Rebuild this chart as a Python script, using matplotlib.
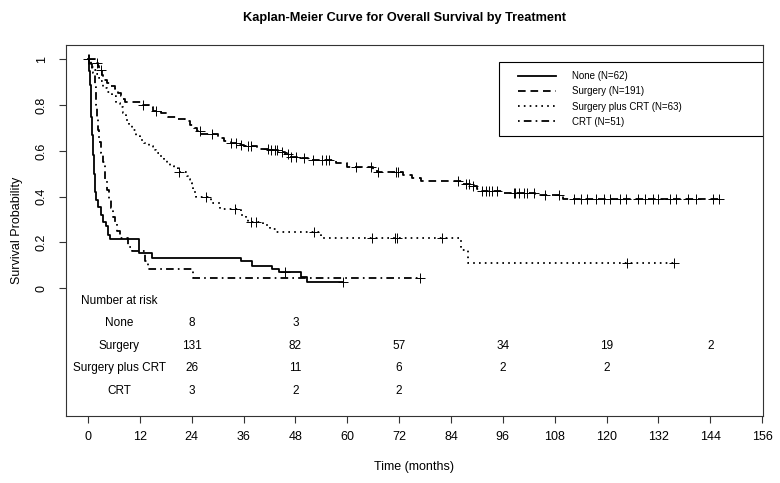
import numpy as np
import matplotlib
matplotlib.use("Agg")
import matplotlib.pyplot as plt
from matplotlib.patches import Rectangle

plt.rcParams["font.family"] = ["Liberation Sans", "DejaVu Sans"]
plt.rcParams["lines.scale_dashes"] = False

# Kaplan-Meier step curves: times (months) and survival after each step,
# last entry = end of follow-up
none_t = [0, 0.2, 0.4, 0.6, 0.8, 1.0, 1.2, 1.4, 1.6, 1.85, 2.4, 2.9, 3.5, 4.2, 4.7, 5.2,
          11.8, 14.7, 35.3, 37.9, 42.5, 44.3, 49.3, 50.6, 58.9]
none_s = [1.0, 0.95, 0.89, 0.82, 0.75, 0.67, 0.58, 0.50, 0.42, 0.385, 0.356, 0.32, 0.29, 0.27, 0.23, 0.214,
          0.152, 0.133, 0.12, 0.098, 0.083, 0.069, 0.047, 0.025, 0.025]
none_cens = [0.1, 45.5, 58.9]

surg_t = [0, 1.5, 2.2, 2.6, 3.2, 3.5, 4.5, 5.2, 6.2, 7.0, 7.6, 8.2, 8.6, 12.5, 14.0, 15.0, 17.0, 18.5,
          20.5, 22.5, 23.5, 24.5, 25.2, 26.0, 30.0, 31.5, 33.0, 35.0, 36.0, 39.0, 42.0, 44.0, 45.5,
          46.5, 49.0, 51.0, 57.5, 60.0, 66.0, 66.8, 73.0, 75.0, 77.0, 86.5, 88.5, 90.0, 91.0, 96.0,
          103.5, 110.0, 146.0]
surg_s = [1.0, 0.985, 0.97, 0.955, 0.93, 0.91, 0.895, 0.885, 0.87, 0.855, 0.84, 0.825, 0.813, 0.80, 0.79,
          0.775, 0.765, 0.75, 0.74, 0.73, 0.715, 0.70, 0.685, 0.672, 0.655, 0.645, 0.635, 0.627, 0.62,
          0.61, 0.605, 0.595, 0.585, 0.575, 0.567, 0.56, 0.545, 0.53, 0.515, 0.508, 0.494, 0.48, 0.47,
          0.455, 0.445, 0.435, 0.426, 0.417, 0.405, 0.388, 0.388]
surg_cens = [0.3, 2.0, 2.9, 12.8, 15.8, 25.9, 28.7, 33.2, 34.3, 35.5, 37.0, 37.6, 41.6, 42.4, 43.2, 43.8,
             45.0, 46.2, 47.0, 48.2, 50.0, 52.0, 54.2, 55.0, 55.8, 62.0, 65.5, 67.2, 71.2, 71.7, 85.7,
             87.4, 88.2, 89.0, 91.2, 92.0, 92.8, 93.5, 94.7, 98.5, 98.9, 99.7, 100.8, 101.6, 103.2,
             105.8, 108.9, 112.5, 114.0, 115.5, 117.5, 119.3, 120.8, 123.0, 124.5, 127.3, 129.0,
             130.8, 131.8, 134.7, 136.0, 138.8, 140.8, 144.7, 146.0]

scrt_t = [0, 0.5, 1.0, 1.5, 2.0, 2.5, 3.0, 3.5, 4.5, 5.5, 6.5, 7.5, 8.2, 8.9, 9.5, 10.1, 11.0, 12.0,
          13.0, 14.0, 15.0, 15.8, 16.8, 17.5, 18.2, 19.0, 20.0, 20.8, 22.8, 23.3, 23.6, 24.0, 24.3,
          25.0, 28.5, 30.5, 35.5, 36.5, 37.0, 40.5, 42.0, 43.5, 53.9, 86.2, 88.0, 135.5]
scrt_s = [1.0, 0.984, 0.968, 0.952, 0.936, 0.92, 0.905, 0.873, 0.857, 0.841, 0.81, 0.79, 0.765, 0.735,
          0.714, 0.69, 0.667, 0.648, 0.635, 0.62, 0.605, 0.59, 0.575, 0.56, 0.546, 0.535, 0.524, 0.508,
          0.492, 0.475, 0.458, 0.44, 0.42, 0.40, 0.37, 0.345, 0.32, 0.30, 0.29, 0.275, 0.26, 0.246,
          0.22, 0.165, 0.11, 0.11]
scrt_cens = [21.0, 27.2, 34.0, 37.6, 38.9, 52.2, 65.8, 71.1, 71.6, 82.0, 124.7, 135.5]

crt_t = [0, 0.8, 1.0, 1.2, 1.5, 1.8, 2.0, 2.3, 2.6, 3.0, 3.4, 3.9, 4.4, 4.9, 5.4, 5.8, 6.2, 6.6, 7.4,
         9.3, 10.1, 13.2, 13.9, 24.2, 76.8]
crt_s = [1.0, 0.98, 0.96, 0.94, 0.88, 0.80, 0.74, 0.69, 0.64, 0.59, 0.55, 0.47, 0.43, 0.385, 0.35,
         0.31, 0.28, 0.25, 0.22, 0.18, 0.16, 0.12, 0.082, 0.042, 0.042]
crt_cens = [76.8]

labels = ["None (N=62)", "Surgery (N=191)", "Surgery plus CRT (N=63)", "CRT (N=51)"]
styles = ["-", (0, (5.5, 3.5)), (0, (1.2, 3)), (0, (1.2, 3, 5.5, 3))]

# number at risk table
risk_times = [24, 48, 72, 96, 120, 144]
risk_groups = ["None", "Surgery", "Surgery plus CRT", "CRT"]
risk_none = [8, 3]
risk_surg = [131, 82, 57, 34, 19, 2]
risk_scrt = [26, 11, 6, 2, 2]
risk_crt = [3, 2, 2]

fig = plt.figure(figsize=(7.8, 4.83), dpi=100)
ax = fig.add_axes([0.0846, 0.1387, 0.8936, 0.7681])

curves = [(none_t, none_s, none_cens), (surg_t, surg_s, surg_cens),
          (scrt_t, scrt_s, scrt_cens), (crt_t, crt_s, crt_cens)]
handles = []
for (t, s, cens), ls, lab in zip(curves, styles, labels):
    t = np.array(t)
    s = np.array(s)
    h, = ax.step(t, s, where="post", color="black", lw=1.3, linestyle=ls, label=lab)
    handles.append(h)
    idx = np.searchsorted(t, cens, side="right") - 1
    ax.plot(cens, s[idx], "+", color="black", ms=7, mew=0.7, linestyle="none")

ax.set_xlim(-5.1, 156.2)
ax.set_ylim(-0.56, 1.063)
ax.set_xticks(np.arange(0, 157, 12))
ax.set_yticks([0, 0.2, 0.4, 0.6, 0.8, 1.0])
ax.set_yticklabels(["0", "0.2", "0.4", "0.6", "0.8", "1"], rotation=90, va="center")
ax.tick_params(axis="both", length=5, width=0.8, labelsize=9, color="#333333")
ax.tick_params(axis="x", pad=6)
ax.tick_params(axis="y", pad=8)
for sp in ax.spines.values():
    sp.set_linewidth(0.8)
    sp.set_color("#333333")

# number at risk
row_y = [-0.153, -0.254, -0.350, -0.451]
ax.text(7.2, -0.057, "Number at risk", ha="center", va="center", fontsize=8.5)
for name, yy, counts in zip(risk_groups, row_y, [risk_none, risk_surg, risk_scrt, risk_crt]):
    ax.text(7.2, yy, name, ha="center", va="center", fontsize=8.5)
    for tt, n in zip(risk_times, counts):
        ax.text(tt, yy, str(n), ha="center", va="center", fontsize=8.5)

# legend box drawn separately so the entries can sit further in
ax.add_patch(Rectangle((0.621, 0.755), 0.379, 0.2, transform=ax.transAxes, fill=True,
                       facecolor="white", edgecolor="black", lw=0.8, zorder=4))
leg = ax.legend(handles=handles, loc="upper left", bbox_to_anchor=(0.634, 0.955),
                borderaxespad=0, fontsize=7, frameon=False,
                handlelength=3.9, handletextpad=1.7, labelspacing=0.52, borderpad=1.0)
leg.set_zorder(5)

fig.text(0.519, 1 - 18 / 483, "Kaplan-Meier Curve for Overall Survival by Treatment",
         ha="center", va="center", fontsize=9.2, fontweight="bold")
fig.text(414.5 / 780, 1 - 467 / 483, "Time (months)", ha="center", va="center", fontsize=9)
fig.text(17 / 780, 1 - 230 / 483, "Survival Probability", ha="center", va="center",
         rotation=90, fontsize=9)

fig.savefig("out.png", dpi=100)
